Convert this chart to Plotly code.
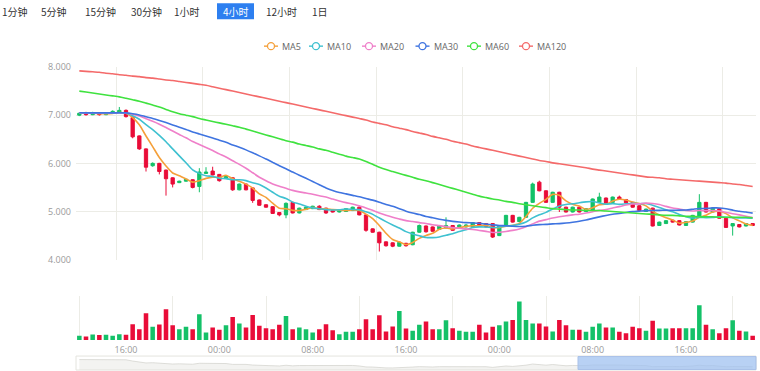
import plotly.graph_objects as go

# ---------------- data ----------------
opens = [7.00, 7.05, 7.01, 7.05, 7.01, 7.04, 7.06, 7.10, 6.95, 6.57,
         6.30, 5.95, 6.00, 5.86, 5.70, 5.60, 5.63, 5.66, 5.52, 5.79,
         5.84, 5.77, 5.69, 5.70, 5.45, 5.57, 5.49, 5.24, 5.14, 5.10,
         4.98, 4.93, 5.19, 4.97, 5.04, 5.06, 5.11, 5.07, 5.02, 4.99,
         5.00, 5.02, 5.09, 4.93, 4.64, 4.57, 4.37, 4.35, 4.28, 4.34,
         4.31, 4.57, 4.70, 4.68, 4.63, 4.66, 4.71, 4.68, 4.68, 4.68,
         4.77, 4.75, 4.75, 4.50, 4.71, 4.92, 4.79, 4.88, 5.19, 5.61,
         5.43, 5.19, 5.40, 5.09, 4.99, 5.09, 5.00, 5.02, 5.19, 5.28,
         5.19, 5.30, 5.25, 5.19, 5.12, 5.00, 5.07, 4.71, 4.75, 4.82,
         4.81, 4.71, 4.78, 4.88, 5.19, 4.99, 5.06, 4.86, 4.70, 4.73,
         4.70, 4.75]
closes = [7.04, 7.01, 7.05, 7.01, 7.04, 7.08, 7.10, 6.97, 6.55, 6.30,
          5.92, 6.00, 5.83, 5.68, 5.57, 5.63, 5.67, 5.50, 5.82, 5.82,
          5.76, 5.64, 5.73, 5.45, 5.57, 5.45, 5.23, 5.13, 5.09, 4.96,
          4.93, 5.17, 4.97, 5.07, 5.09, 5.11, 5.04, 4.97, 4.99, 5.04,
          5.06, 5.09, 4.93, 4.61, 4.57, 4.35, 4.29, 4.28, 4.36, 4.29,
          4.57, 4.71, 4.58, 4.59, 4.70, 4.71, 4.61, 4.72, 4.72, 4.77,
          4.70, 4.68, 4.47, 4.71, 4.92, 4.78, 4.88, 5.19, 5.57, 5.43,
          5.19, 5.40, 5.09, 4.99, 5.09, 4.99, 5.06, 5.26, 5.30, 5.16,
          5.30, 5.25, 5.18, 5.09, 5.02, 5.05, 4.70, 4.78, 4.81, 4.78,
          4.72, 4.79, 4.92, 5.19, 4.99, 5.07, 4.86, 4.67, 4.75, 4.68,
          4.75, 4.71]
highs = [7.06, 7.07, 7.07, 7.06, 7.06, 7.10, 7.17, 7.12, 6.98, 6.58,
         6.31, 6.02, 6.01, 5.87, 5.71, 5.64, 5.68, 5.67, 5.90, 5.92,
         5.93, 5.78, 5.74, 5.71, 5.58, 5.58, 5.50, 5.25, 5.15, 5.11,
         4.99, 5.19, 5.20, 5.08, 5.10, 5.12, 5.13, 5.08, 5.03, 5.05,
         5.07, 5.10, 5.11, 4.94, 4.65, 4.58, 4.38, 4.36, 4.37, 4.35,
         4.58, 4.73, 4.71, 4.69, 4.71, 4.88, 4.72, 4.73, 4.74, 4.78,
         4.78, 4.76, 4.76, 4.72, 4.93, 4.93, 4.89, 5.20, 5.60, 5.64,
         5.44, 5.41, 5.41, 5.10, 5.10, 5.10, 5.07, 5.27, 5.39, 5.29,
         5.31, 5.33, 5.26, 5.20, 5.13, 5.06, 5.08, 4.79, 4.82, 4.83,
         4.82, 4.80, 4.93, 5.36, 5.20, 5.08, 5.07, 4.87, 4.76, 4.74,
         4.76, 4.76]
lows = [6.98, 6.99, 7.00, 6.99, 7.00, 7.03, 7.05, 6.95, 6.52, 6.28,
        5.83, 5.93, 5.77, 5.33, 5.50, 5.59, 5.62, 5.48, 5.40, 5.78,
        5.75, 5.62, 5.68, 5.43, 5.44, 5.44, 5.18, 5.12, 5.08, 4.95,
        4.90, 4.86, 4.96, 4.96, 5.03, 5.05, 5.03, 4.95, 4.98, 4.98,
        4.99, 5.01, 4.92, 4.58, 4.56, 4.17, 4.27, 4.26, 4.27, 4.27,
        4.30, 4.56, 4.56, 4.58, 4.62, 4.65, 4.60, 4.67, 4.67, 4.67,
        4.69, 4.67, 4.45, 4.49, 4.70, 4.77, 4.78, 4.87, 5.18, 5.42,
        5.18, 5.18, 4.99, 4.98, 4.98, 4.98, 4.99, 5.01, 5.18, 5.15,
        5.18, 5.24, 5.17, 5.08, 5.01, 4.99, 4.69, 4.70, 4.74, 4.77,
        4.71, 4.70, 4.77, 4.87, 4.98, 4.98, 4.85, 4.66, 4.50, 4.67,
        4.69, 4.70]
volumes = [4.3, 3.7, 5.7, 5.0, 5.3, 4.3, 6.0, 5.3, 16.0, 11.0,
           27.0, 13.3, 15.7, 31.0, 15.0, 11.0, 13.3, 11.0, 26.0, 7.7,
           12.7, 10.3, 15.0, 23.3, 16.7, 12.7, 25.3, 14.3, 12.0, 11.0,
           15.3, 24.3, 11.0, 12.7, 11.0, 7.7, 11.0, 16.0, 10.0, 6.0,
           8.3, 8.3, 11.0, 21.0, 11.0, 25.0, 8.7, 13.7, 29.3, 11.7,
           9.3, 15.3, 18.7, 11.0, 11.0, 20.0, 12.0, 9.3, 8.3, 8.3,
           15.3, 7.7, 13.3, 15.0, 18.7, 20.3, 38.7, 20.3, 16.7, 16.7,
           13.7, 8.7, 20.3, 15.0, 10.3, 10.3, 8.3, 13.3, 16.7, 12.7,
           12.7, 8.3, 7.0, 13.3, 12.0, 9.3, 19.3, 11.7, 11.7, 12.0,
           12.0, 12.0, 12.0, 35.0, 15.3, 11.0, 7.0, 12.0, 20.0, 9.3,
           8.7, 4.3]
ma60 = [7.50, 7.48, 7.46, 7.44, 7.42, 7.40, 7.38, 7.35, 7.32, 7.29,
        7.25, 7.21, 7.17, 7.12, 7.07, 7.03, 7.00, 6.97, 6.93, 6.90,
        6.87, 6.84, 6.81, 6.78, 6.75, 6.71, 6.67, 6.63, 6.59, 6.55,
        6.51, 6.47, 6.44, 6.40, 6.37, 6.34, 6.30, 6.27, 6.23, 6.19,
        6.15, 6.12, 6.09, 6.04, 5.98, 5.92, 5.87, 5.83, 5.79, 5.75,
        5.71, 5.67, 5.64, 5.60, 5.56, 5.52, 5.48, 5.44, 5.40, 5.36,
        5.32, 5.29, 5.26, 5.24, 5.21, 5.19, 5.16, 5.14, 5.12, 5.10,
        5.08, 5.06, 5.05, 5.04, 5.03, 5.03, 5.02, 5.02, 5.02, 5.01,
        5.00, 4.99, 4.98, 4.97, 4.96, 4.95, 4.94, 4.93, 4.92, 4.92,
        4.91, 4.90, 4.90, 4.89, 4.89, 4.89, 4.88, 4.88, 4.88, 4.88,
        4.88, 4.87]
ma120 = [7.92, 7.91, 7.90, 7.89, 7.87, 7.86, 7.84, 7.83, 7.81, 7.80,
         7.78, 7.77, 7.75, 7.73, 7.72, 7.70, 7.68, 7.66, 7.64, 7.62,
         7.59, 7.56, 7.53, 7.50, 7.47, 7.44, 7.41, 7.38, 7.35, 7.32,
         7.29, 7.26, 7.23, 7.20, 7.17, 7.14, 7.11, 7.08, 7.05, 7.02,
         6.99, 6.96, 6.93, 6.90, 6.86, 6.83, 6.80, 6.76, 6.73, 6.70,
         6.66, 6.63, 6.60, 6.56, 6.53, 6.50, 6.46, 6.43, 6.40, 6.36,
         6.33, 6.30, 6.27, 6.24, 6.21, 6.18, 6.15, 6.12, 6.09, 6.06,
         6.04, 6.01, 5.99, 5.97, 5.95, 5.93, 5.91, 5.88, 5.86, 5.84,
         5.82, 5.80, 5.78, 5.76, 5.74, 5.72, 5.71, 5.70, 5.68, 5.67,
         5.66, 5.65, 5.64, 5.63, 5.62, 5.61, 5.60, 5.59, 5.57, 5.56,
         5.54, 5.52]
history_level = 7.05  # closes before the visible window sat flat around this level

time_tick_idx = [7, 21, 35, 49, 63, 77, 91]
time_tick_text = ["16:00", "00:00", "08:00", "16:00", "00:00", "08:00", "16:00"]
price_ticks = [4, 5, 6, 7, 8]
price_tick_text = ["4.000", "5.000", "6.000", "7.000", "8.000"]
price_grid_idx = [5.5, 18.5, 31.5, 44.5, 57.5, 70.5, 83.5, 96.5]
volume_grid_idx = [0, 14, 28, 42, 56, 70, 84, 98]
periods = ["1分钟", "5分钟", "15分钟", "30分钟", "1小时", "4小时", "12小时", "1日"]
active_period = "4小时"

ma_names = ["MA5", "MA10", "MA20", "MA30", "MA60", "MA120"]
ma_colors = ["#f5a03a", "#3fc1d0", "#ef7fc9", "#3f74e0", "#3fe23f", "#f46a6a"]

UP, DOWN = "#14c168", "#e90c38"

# ---------------- derived ----------------
n = len(closes)
idx = list(range(n))


def moving_average(values, w, pre):
    padded = [pre] * (w - 1) + list(values)
    return [round(sum(padded[i:i + w]) / w, 4) for i in range(len(values))]


ma_values = [moving_average(closes, 5, history_level),
             moving_average(closes, 10, history_level),
             moving_average(closes, 20, history_level),
             moving_average(closes, 30, history_level),
             ma60, ma120]
vol_colors = [UP if c >= o else DOWN for o, c in zip(opens, closes)]

# ---------------- geometry helpers ----------------
# the photographed page comes out slightly squeezed vertically, so lay out
# on a slightly taller canvas and map reference pixel rows onto it
REF_H = 371
W, H = 760, 377
SY = H / REF_H
ML, MR, MT, MB = 76, 4, round(66 * SY), 0
PW, PH = W - ML - MR, H - MT - MB


def px_x(p):
    return (p - ML) / PW


def px_y(p):
    return (H - MB - p * SY) / PH


fig = go.Figure()

fig.add_trace(go.Candlestick(
    x=idx, open=opens, high=highs, low=lows, close=closes,
    increasing=dict(line=dict(color=UP, width=1), fillcolor=UP),
    decreasing=dict(line=dict(color=DOWN, width=1), fillcolor=DOWN),
    whiskerwidth=0, showlegend=False, xaxis="x", yaxis="y", hoverinfo="skip"))

for name, col, vals in zip(ma_names, ma_colors, ma_values):
    fig.add_trace(go.Scatter(x=idx, y=vals, mode="lines", name=name,
                             line=dict(color=col, width=1.6, shape="spline", smoothing=0.6),
                             showlegend=False, xaxis="x", yaxis="y", hoverinfo="skip"))

fig.add_trace(go.Bar(x=idx, y=volumes, marker=dict(color=vol_colors, line=dict(width=0)),
                     width=0.68, showlegend=False, xaxis="x2", yaxis="y2", hoverinfo="skip"))

# data shadow inside the zoom slider
fig.add_trace(go.Scatter(x=idx, y=closes, mode="lines", fill="tozeroy",
                         line=dict(color="#d6d6d0", width=0.8), fillcolor="rgba(220,220,214,0.35)",
                         showlegend=False, xaxis="x3", yaxis="y3", hoverinfo="skip"))

grid = "#ecece6"
tickfont = dict(family="Open Sans, Arial, sans-serif", size=9, color="#9a9a9a")
xr = [-0.5, n - 0.5]

fig.update_layout(
    width=W, height=H, autosize=False, margin=dict(l=ML, r=MR, t=MT, b=MB),
    paper_bgcolor="white", plot_bgcolor="white",
    xaxis=dict(domain=[0, 1], range=xr, tickvals=price_grid_idx, showticklabels=False,
               showgrid=True, gridcolor=grid, zeroline=False, rangeslider=dict(visible=False),
               anchor="y", fixedrange=True),
    yaxis=dict(domain=[px_y(259.3), 1], range=[4, 8], tickvals=price_ticks,
               ticktext=price_tick_text, tickfont=tickfont, showgrid=True, gridcolor=grid,
               zeroline=False, ticks="", ticklabelstandoff=4, anchor="x"),
    xaxis2=dict(domain=[0, 1], range=xr, tickvals=time_tick_idx, ticktext=time_tick_text,
                tickfont=tickfont, showgrid=False, zeroline=False, ticks="",
                ticklabelstandoff=3,
                minor=dict(tickvals=volume_grid_idx, showgrid=True, gridcolor=grid),
                anchor="y2"),
    yaxis2=dict(domain=[px_y(340), px_y(296)], range=[0, 44], visible=False, anchor="x2"),
    xaxis3=dict(domain=[0, 1], range=xr, visible=False, anchor="y3"),
    yaxis3=dict(domain=[px_y(370), px_y(356)], range=[3.6, 8.2], visible=False, anchor="x3"),
    bargap=0.3,
)

# zoom slider frame and selected window
fig.add_shape(type="rect", xref="paper", yref="paper", x0=0, x1=1,
              y0=px_y(370), y1=px_y(356), line=dict(color="#e4e4de", width=1),
              fillcolor="rgba(0,0,0,0)", layer="below")
fig.add_shape(type="rect", xref="paper", yref="paper", x0=px_x(578), x1=px_x(756),
              y0=px_y(369.5), y1=px_y(356.5), line=dict(color="#a9c1e8", width=1),
              fillcolor="rgba(160,194,240,0.75)")

# period toolbar
period_centers = [15, 54, 100, 146, 187, 235.5, 281, 320]
fig.add_shape(type="rect", xref="paper", yref="paper", x0=px_x(217), x1=px_x(254),
              y0=px_y(18), y1=px_y(2), line=dict(width=0), fillcolor="#2d7ff0")
for label, cx in zip(periods, period_centers):
    active = label == active_period
    fig.add_annotation(x=px_x(cx), y=px_y(10), xref="paper", yref="paper", text=label,
                       showarrow=False, xanchor="center", yanchor="middle",
                       font=dict(family="Noto Sans CJK SC", size=10,
                                 color="white" if active else "#333333"))

# legend (drawn compactly like the original)
legend_sym_centers = [271, 316, 369, 422.5, 474, 526]
for name, col, cx in zip(ma_names, ma_colors, legend_sym_centers):
    yy = px_y(45)
    fig.add_shape(type="line", xref="paper", yref="paper", x0=px_x(cx - 7), x1=px_x(cx + 7),
                  y0=yy, y1=yy, line=dict(color=col, width=1.4))
    fig.add_shape(type="circle", xref="paper", yref="paper", xsizemode="pixel",
                  ysizemode="pixel", xanchor=px_x(cx), yanchor=yy, x0=-3.5, x1=3.5,
                  y0=-3.5, y1=3.5, line=dict(color=col, width=1.3), fillcolor="white")
    fig.add_annotation(x=px_x(cx + 9), y=yy, xref="paper", yref="paper", text=name,
                       showarrow=False, xanchor="left", yanchor="middle",
                       font=dict(family="Open Sans, Arial, sans-serif", size=9, color="#666666"))

fig.write_html("out.html", config={"displayModeBar": False, "responsive": False},
               post_script="document.body.style.margin='0';document.body.style.overflow='hidden';")
